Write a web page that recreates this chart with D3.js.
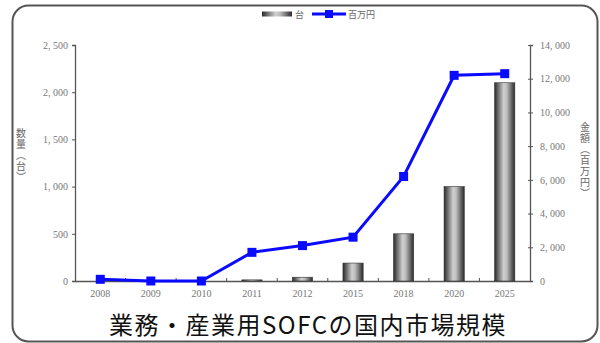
<!DOCTYPE html>
<html>
<head>
<meta charset="utf-8">
<script src="https://cdn.jsdelivr.net/npm/d3@7"></script>
<style>
  body { margin: 0; background: #fff; }
  .tick-label { font-family: "Liberation Serif", "DejaVu Serif", serif; font-size: 10px; fill: #777; }
  .cjk { font-family: "Noto Sans CJK JP", sans-serif; }
</style>
</head>
<body>
<div id="chart"></div>
<script>
const categories = ["2008", "2009", "2010", "2011", "2012", "2015", "2018", "2020", "2025"];
const units = [0, 0, 0, 12, 40, 190, 500, 1000, 2100];          // 台
const amounts = [100, 0, 0, 1700, 2100, 2600, 6200, 12200, 12300]; // 百万円
const leftTicks = [0, 500, 1000, 1500, 2000, 2500];
const rightTicks = [0, 2000, 4000, 6000, 8000, 10000, 12000, 14000];

const width = 600, height = 343;
const margin = { top: 45, right: 70, bottom: 62, left: 75 };

const svg = d3.select("#chart").append("svg")
  .attr("width", width).attr("height", height);

// gradient for the cylinder-like bars
const defs = svg.append("defs");
const grad = defs.append("linearGradient").attr("id", "barGrad")
  .attr("x1", "0%").attr("x2", "100%").attr("y1", "0%").attr("y2", "0%");
grad.append("stop").attr("offset", "0%").attr("stop-color", "#2a2a2a");
grad.append("stop").attr("offset", "45%").attr("stop-color", "#d0d0d0");
grad.append("stop").attr("offset", "60%").attr("stop-color", "#bdbdbd");
grad.append("stop").attr("offset", "100%").attr("stop-color", "#2a2a2a");

// frame
svg.append("rect")
  .attr("x", 12.5).attr("y", 5.5).attr("width", 585).attr("height", 336)
  .attr("rx", 16).attr("ry", 16)
  .attr("fill", "none").attr("stroke", "#555").attr("stroke-width", 2);

const x = d3.scaleBand().domain(categories)
  .range([margin.left, width - margin.right])
  .paddingInner(0.6).paddingOuter(0.3);
const yL = d3.scaleLinear().domain([0, 2500]).range([height - margin.bottom, margin.top]);
const yR = d3.scaleLinear().domain([0, 14000]).range([height - margin.bottom, margin.top]);

const fmt = (v) => d3.format(",")(v).replace(",", ", ");

// left axis
const gL = svg.append("g").attr("transform", `translate(${margin.left},0)`)
  .call(d3.axisLeft(yL).tickValues(leftTicks).tickSize(3).tickFormat(fmt));
// right axis
const gR = svg.append("g").attr("transform", `translate(${width - margin.right},0)`)
  .call(d3.axisRight(yR).tickValues(rightTicks).tickSize(3).tickFormat(fmt));
// x axis
const gX = svg.append("g").attr("transform", `translate(0,${height - margin.bottom})`)
  .call(d3.axisBottom(x).tickSize(0).tickPadding(9));

[gL, gR, gX].forEach((g) => {
  g.select(".domain").attr("stroke", "#555").attr("stroke-width", 1.3);
  g.selectAll(".tick line").attr("stroke", "#555");
  g.selectAll(".tick text").attr("class", "tick-label");
});
gL.selectAll(".tick text").attr("x", -7);
gR.selectAll(".tick text").attr("x", 10);
gR.selectAll(".tick line").attr("x1", -2);

// small ticks between categories on x axis
const gap = (x.step() - x.bandwidth()) / 2;
svg.append("g").selectAll("line")
  .data(categories.slice(1))
  .join("line")
  .attr("x1", (d) => x(d) - gap)
  .attr("x2", (d) => x(d) - gap)
  .attr("y1", height - margin.bottom)
  .attr("y2", height - margin.bottom - 3)
  .attr("stroke", "#555");

// bars
svg.append("g").selectAll("rect")
  .data(categories)
  .join("rect")
  .attr("x", (d) => x(d))
  .attr("width", x.bandwidth())
  .attr("y", (d, i) => yL(units[i]))
  .attr("height", (d, i) => yL(0) - yL(units[i]))
  .attr("fill", "url(#barGrad)")
  .attr("stroke", "#333").attr("stroke-width", 0.6);

// line
const line = d3.line()
  .x((d) => x(d.c) + x.bandwidth() / 2)
  .y((d) => yR(d.v));
const pts = categories.map((c, i) => ({ c, v: amounts[i] }));
svg.append("path").datum(pts)
  .attr("d", line)
  .attr("fill", "none").attr("stroke", "#0a0aff").attr("stroke-width", 3);
svg.append("g").selectAll("rect")
  .data(pts)
  .join("rect")
  .attr("x", (d) => x(d.c) + x.bandwidth() / 2 - 4.5)
  .attr("y", (d) => yR(d.v) - 4.5)
  .attr("width", 9).attr("height", 9)
  .attr("fill", "#0a0aff");

// axis titles (vertical)
svg.append("text").attr("class", "cjk")
  .attr("x", 21).attr("y", 128)
  .style("writing-mode", "vertical-rl")
  .style("letter-spacing", "1px")
  .attr("font-size", 10).attr("fill", "#666")
  .text("数量（台）");
svg.append("text").attr("class", "cjk")
  .attr("x", 585).attr("y", 122)
  .style("writing-mode", "vertical-rl")
  .style("letter-spacing", "1px")
  .attr("font-size", 10).attr("fill", "#666")
  .text("金額（百万円）");

// legend
const lg = svg.append("g");
lg.append("rect").attr("x", 262).attr("y", 11.5).attr("width", 30).attr("height", 5)
  .attr("fill", "url(#barGrad)");
lg.append("text").attr("class", "cjk").attr("x", 295).attr("y", 18)
  .attr("font-size", 9).attr("fill", "#666").text("台");
lg.append("line").attr("x1", 312).attr("x2", 346).attr("y1", 14).attr("y2", 14)
  .attr("stroke", "#0a0aff").attr("stroke-width", 3);
lg.append("rect").attr("x", 325).attr("y", 10).attr("width", 8).attr("height", 8)
  .attr("fill", "#0a0aff");
lg.append("text").attr("class", "cjk").attr("x", 348).attr("y", 18)
  .attr("font-size", 9).attr("fill", "#666").text("百万円");

// bottom title
svg.append("text").attr("class", "cjk")
  .attr("x", 308).attr("y", 334)
  .attr("text-anchor", "middle")
  .style("letter-spacing", "1.5px")
  .attr("font-size", 24).attr("fill", "#111")
  .text("業務・産業用SOFCの国内市場規模");
</script>
</body>
</html>
